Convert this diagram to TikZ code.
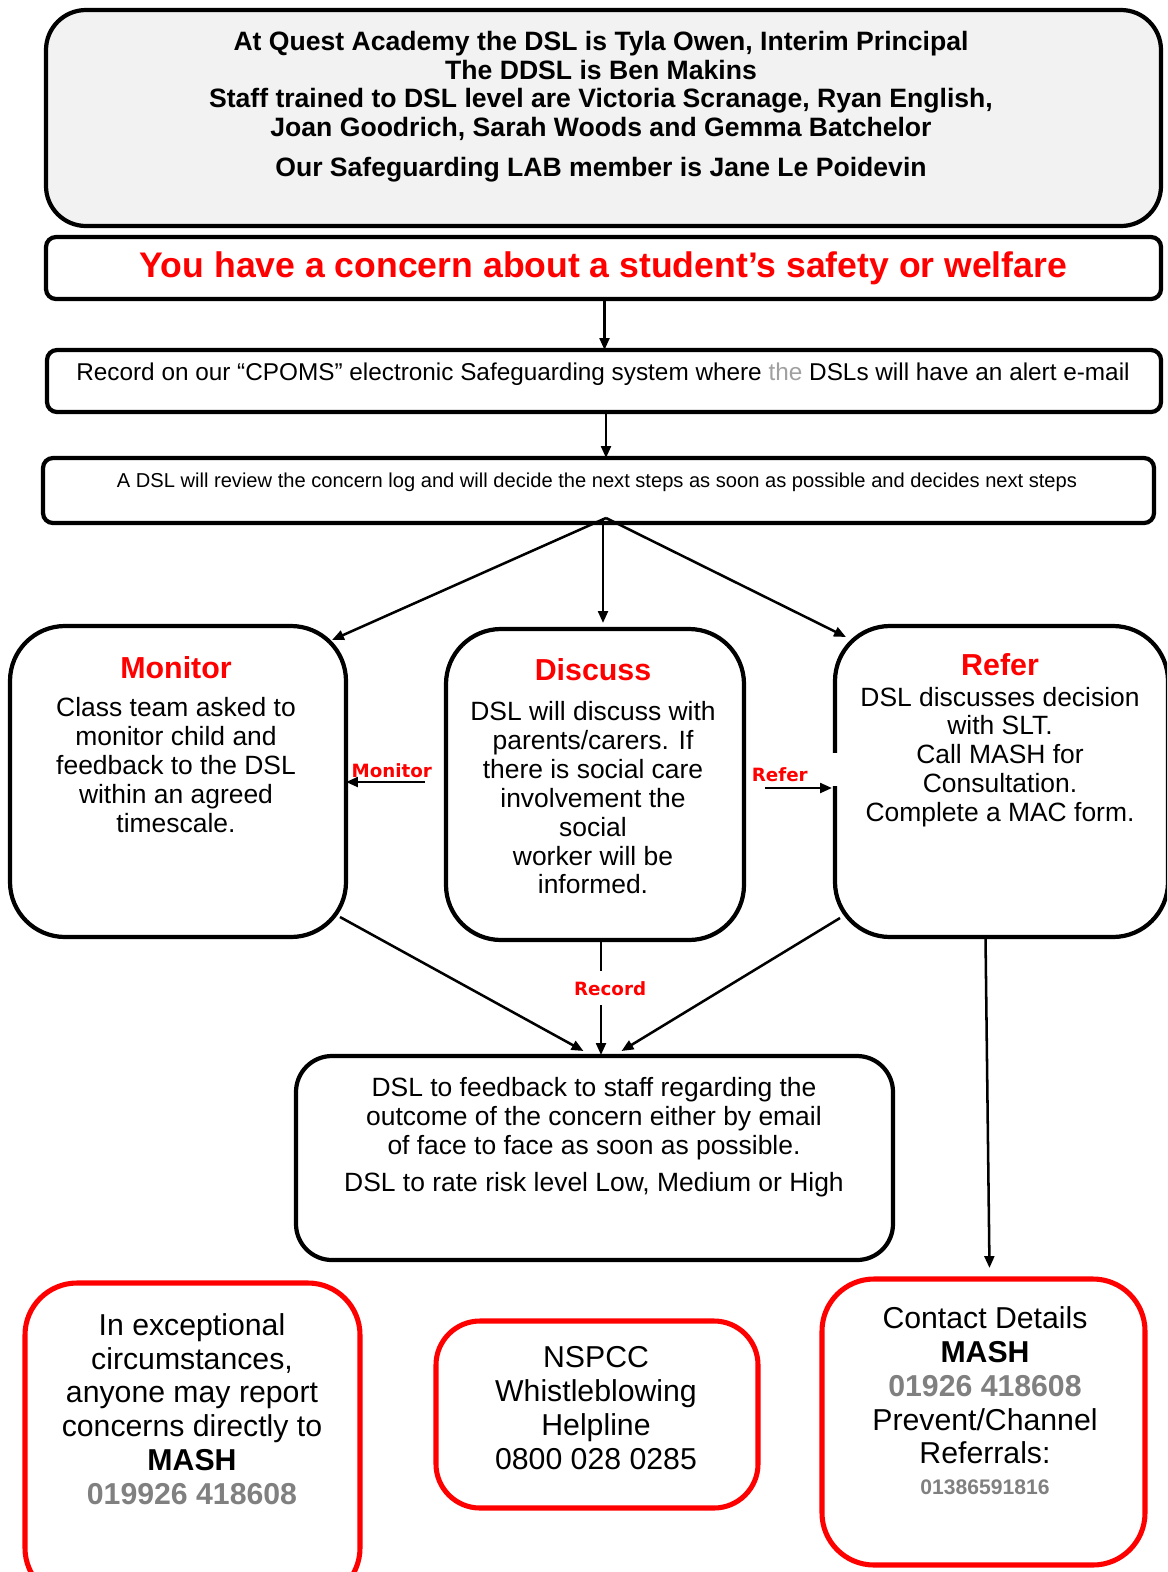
\documentclass[tikz,border=0pt]{standalone}
\usepackage{fontspec}
\setmainfont{Liberation Sans}
\newfontfamily\tagfont{DejaVu Sans}
\usetikzlibrary{arrows.meta}
\usetikzlibrary{positioning}

\definecolor{boxred}{RGB}{255,0,0}
\definecolor{numgray}{RGB}{128,128,128}
\definecolor{thegray}{RGB}{160,160,160}
\definecolor{panelgray}{RGB}{242,242,242}

\begin{document}
\begin{tikzpicture}[
    x=0.025cm, y=-0.025cm,
    >={Triangle[length=8.5pt,width=7pt]},
    every node/.style={inner sep=0pt, outer sep=0pt},
    boxsize/.style 2 args={minimum width=#1*0.025cm, minimum height=#2*0.025cm},
    panel/.style={rectangle, draw, line width=3pt, rounded corners=#1},
    redpanel/.style={rectangle, draw=boxred, line width=3.6pt, rounded corners=#1},
    body/.style={align=center, font=\fontsize{18.8}{20.5}\selectfont},
    bigbody/.style={align=center, font=\fontsize{21.5}{24}\selectfont},
    tag/.style={text=boxred, font=\tagfont\bfseries\fontsize{13}{14}\selectfont},
    arr/.style={->, line width=1.8pt}
]
\clip (0,0) rectangle (1167,1572);
\fill[white] (0,0) rectangle (1167,1572);

% Boxes
\node[panel=1cm, fill=panelgray, boxsize={1115}{216}] (staff) at (603.5,118) {};
\node[align=center, font=\bfseries\fontsize{18.9}{20.3}\selectfont] (stafftxt) at (601,107)
  {At Quest Academy the DSL is Tyla Owen, Interim Principal\\
   The DDSL is Ben Makins\\
   Staff trained to DSL level are Victoria Scranage, Ryan English,\\
   Joan Goodrich, Sarah Woods and Gemma Batchelor\\[8.5pt]
   Our Safeguarding LAB member is Jane Le Poidevin};
\node[panel=0.25cm, boxsize={1115}{62}, text=boxred,
      font=\bfseries\fontsize{25.3}{28}\selectfont] (concern) at (603.5,268)
  {You have a concern about a student’s safety or welfare};
\node[panel=0.25cm, boxsize={1114}{62}] (record) at (604,381) {};
\node[font=\fontsize{17.3}{20}\selectfont] (recordtxt) at (603,374)
  {Record on our “CPOMS” electronic Safeguarding system where \textcolor{thegray}{the} DSLs will have an alert e-mail};
\node[panel=0.25cm, boxsize={1111}{65}] (review) at (598.5,490.5) {};
\node[font=\fontsize{14.3}{16}\selectfont] (reviewtxt) at (597,482)
  {A DSL will review the concern log and will decide the next steps as soon as possible and decides next steps};

\node[panel=1.375cm, boxsize={336}{311}] (monitor) at (178,781.5) {};
\node[body] (monitortxt) at (176,744.5)
  {\textcolor{boxred}{\fontsize{21.6}{24}\selectfont\bfseries Monitor}\\[6.5pt]
   Class team asked to\\ monitor child and\\ feedback to the DSL\\ within an agreed\\ timescale.};
\node[panel=1.375cm, boxsize={298}{311}] (discuss) at (595,784.5) {};
\node[body] (discusstxt) at (593,776.5)
  {\textcolor{boxred}{\fontsize{21.6}{24}\selectfont\bfseries Discuss}\\[8pt]
   DSL will discuss with\\ parents/carers. If\\ there is social care\\ involvement the\\ social\\ worker will be\\ informed.};
\node[panel=1.375cm, boxsize={333}{311}] (refer) at (1001.5,781.5) {};
\node[body] (refertxt) at (1000,740)
  {\textcolor{boxred}{\fontsize{21.6}{24}\selectfont\bfseries Refer}\\[1.5pt]
   DSL discusses decision\\ with SLT.\\ Call MASH for\\ Consultation.\\ Complete a MAC form.};
\fill[white] (829,753) rectangle (843,786);

\node[panel=0.9cm, boxsize={597}{204}] (feedback) at (594.5,1158) {};
\node[body] (feedbacktxt) at (594,1137)
  {DSL to feedback to staff regarding the\\ outcome of the concern either by email\\
   of face to face as soon as possible.\\[6pt] DSL to rate risk level Low, Medium or High};

\node[redpanel=1.3cm, boxsize={335}{317}] (exceptional) at (192.5,1441.5) {};
\node[bigbody] (exceptionaltxt) at (192,1409)
  {In exceptional\\ circumstances,\\ anyone may report\\ concerns directly to\\ \textbf{MASH}\\
   \textcolor{numgray}{\bfseries 019926 418608}};
\node[redpanel=1.1cm, boxsize={322}{187}] (nspcc) at (597,1414.5) {};
\node[bigbody] (nspcctxt) at (596,1408)
  {NSPCC\\ Whistleblowing\\ Helpline\\ 0800 028 0285};
\node[redpanel=1.3cm, boxsize={323}{286}] (contact) at (983.5,1422) {};
\node[bigbody] (contacttxt) at (985,1401)
  {Contact Details\\ \textbf{MASH}\\ \textcolor{numgray}{\bfseries 01926 418608}\\
   Prevent/Channel\\ Referrals:\\[-2pt] \textcolor{numgray}{\fontsize{15}{17}\selectfont\bfseries 01386591816}};

% Edges
\coordinate (split) at (606,518);
\draw[arr] ([shift={(1,0)}]concern.south) -- ([shift={(1,0)}]concern.south |- record.north);
\draw[arr] ([shift={(2,0)}]record.south) -- ([shift={(2,0)}]record.south |- review.north);
\draw[arr] (split) -- ([shift={(-14,14)}]monitor.north east);
\draw[arr] ([shift={(-3,0)}]split) -- ([shift={(-3,-6)}]split |- discuss.north);
\draw[arr] (split) -- ([shift={(11,11)}]refer.north west);

\coordinate (monfrom) at (425,782);
\draw[arr] (monfrom) -- (monfrom -| monitor.east) node[tag, pos=0.42, above=3pt] {Monitor};
\coordinate (reffrom) at (765,788);
\draw[arr] (reffrom) -- ([shift={(-3,0)}]reffrom -| refer.west) node[tag, pos=0.22, above=4.5pt] {Refer};

\draw[arr] ([shift={(6,0)}]discuss.south) -- ([shift={(6,-1)}]discuss.south |- feedback.north)
  node[tag, fill=white, inner xsep=2pt, inner ysep=7pt, pos=0.42, xshift=6.5pt] {Record};
\draw[arr] ([shift={(-6,-20)}]monitor.south east) -- ([shift={(-11,-5)}]feedback.north);
\draw[arr] ([shift={(5,-19)}]refer.south west) -- ([shift={(27,-5)}]feedback.north);
\draw[arr] ([shift={(-16,0)}]refer.south) -- ([shift={(6,-11)}]contact.north);

\end{tikzpicture}
\end{document}
